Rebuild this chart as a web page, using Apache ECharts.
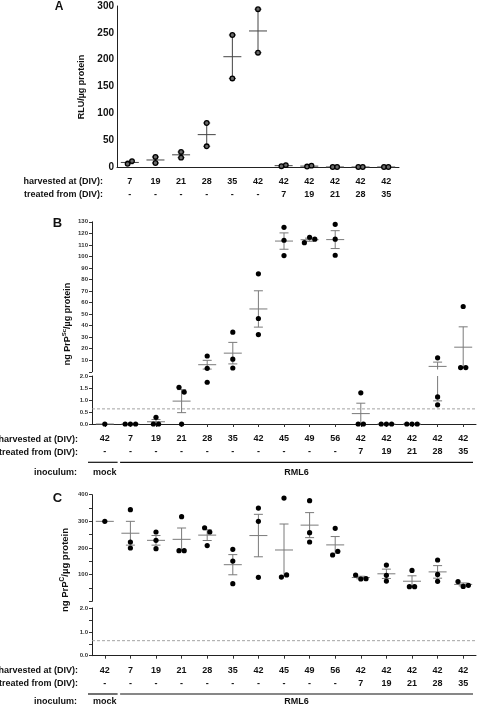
<!DOCTYPE html>
<html><head><meta charset="utf-8">
<script src="https://cdn.jsdelivr.net/npm/echarts@6/dist/echarts.min.js"></script>
<style>html,body{margin:0;padding:0;background:#fff}#c{width:477px;height:706px}</style>
</head><body><div id="c"></div>
<script>
// ---------------- data ----------------
const harvestA = ['7','19','21','28','35','42','42','42','42','42','42'];
const treatedA = ['-','-','-','-','-','-','7','19','21','28','35'];
const rluA = [[6,11],[18.7,7.5],[28,17.4],[82,38.6],[246,165],[294,213],[1.5,3.5],[0.8,2.5],[0,0],[0,0],[0,0]];

const harvestBC = ['42','7','19','21','28','35','42','45','49','56','42','42','42','42','42'];
const treatedBC = ['-','-','-','-','-','-','-','-','-','-','7','19','21','28','35'];
const inoculumLabels = ['mock','RML6'];
const inoculumFirstIndex = [0, 1];
const inoculumLastIndex = [0, 14];

const prpScB = [[0],[0,0,0],[0.28,0,0],[1.53,1.33,0],[13.7,3.0,1.74],[34.3,10.9,3.3],[84.9,46.2,32.3],
  [125.2,114,100.7],[111.9,116.6,114.9],[127.8,114.9,101],[1.3,0,0],[0,0,0],[0,0,0],[12.1,1.13,0.8],[56.6,3.7,3.7]];
const prpCC = [[300],[343.75,222.5,200],[260,228.75,197.5],[317.5,190,190],[276,260,209],[195,151,66],[350,300,90],
  [387.5,91,99],[377.5,257.5,222.5],[273.75,173.75,187.5],[98.75,83.75,85],[136,97.5,76],[116,55,55],[155,101,75],[74,56,60]];

const detectionLimit = 0.63;
const breakAt = 2;
const yMaxA = 300, yStepA = 50;
const yMaxBU = 130, yStepBU = 10;
const yMaxLow = 2, yStepBL = 0.5, yStepCL = 1;
const yMaxCU = 400, yStepCU = 100;

// ---------------- layout / style ----------------
const FONT = '"Liberation Sans", Arial, Helvetica, sans-serif';
const G = {
  A:  {left:117, top:6,     width:282, height:161},
  BU: {left:92,  top:221.8, width:384, height:150},
  BL: {left:92,  top:376,   width:384, height:48},
  CU: {left:92,  top:494.7, width:384, height:106.6},
  CL: {left:92,  top:608,   width:384, height:47.7}
};

function stats(arr){
  const n = arr.length;
  const m = arr.reduce((a,b)=>a+b,0)/n;
  if (n < 2) return {mean:m, sem:0, n};
  const v = arr.reduce((a,b)=>a+(b-m)*(b-m),0)/(n-1);
  return {mean:m, sem:Math.sqrt(v/n), n};
}
const statA = rluA.map(stats), statB = prpScB.map(stats), statC = prpCC.map(stats);

const styA = {r:2.3, fill:'#6a6a6a', stroke:'#000', sw:1.3, gap:4.4, bar:'#444', bw:1, meanHalf:9, cap:3.5};
const styBC = {r:2.6, fill:'#000', stroke:null, sw:0, gap:5.2, bar:'#7a7a7a', bw:1, meanHalf:9, cap:4.5};

function makeRenderer(points, statList, seg, sty){
  return function(params, api){
    const i = api.value(0);
    const cx = api.coord([i, seg.lo])[0];
    const py = v => api.coord([i, v])[1];
    const children = [];
    const ln = (x1,y1,x2,y2) => ({type:'line', shape:{x1,y1,x2,y2}, style:{stroke:sty.bar, lineWidth:sty.bw}});
    const s = statList[i];
    if (s.n > 1 && s.sem > 0){
      const lo = s.mean - s.sem, hi = s.mean + s.sem;
      const a = Math.max(lo, seg.lo), b = Math.min(hi, seg.hi);
      if (b > a) children.push(ln(cx, py(a), cx, py(b)));
      [lo, hi].forEach(e => { if (seg.has(e)) { const y = py(e); children.push(ln(cx-sty.cap, y, cx+sty.cap, y)); } });
    }
    if (seg.has(s.mean)) { const y = py(s.mean); children.push(ln(cx-sty.meanHalf, y, cx+sty.meanHalf, y)); }
    const pts = [];
    points[i].forEach(v => { if (seg.has(v)) pts.push({v, y:py(v), dx:0}); });
    const parent = pts.map((_,k)=>k);
    const find = k => parent[k] === k ? k : (parent[k] = find(parent[k]));
    for (let a=0;a<pts.length;a++) for (let b=a+1;b<pts.length;b++)
      if (Math.abs(pts[a].y-pts[b].y) < sty.r*2) parent[find(b)] = find(a);
    const groups = {};
    pts.forEach((p,k)=>{ const g = find(k); (groups[g] = groups[g] || []).push(p); });
    Object.values(groups).forEach(g => g.forEach((p,k)=>{ p.dx = (k-(g.length-1)/2)*sty.gap; }));
    pts.forEach(p => children.push({type:'circle', shape:{cx:cx+p.dx, cy:p.y, r:sty.r},
      style:{fill:sty.fill, stroke:sty.stroke, lineWidth:sty.sw}}));
    return {type:'group', children};
  };
}

const segA  = {lo:0, hi:yMaxA, has:v => v>=0 && v<=yMaxA};
const segBU = {lo:breakAt, hi:yMaxBU, has:v => v>=breakAt && v<=yMaxBU};
const segCU = {lo:breakAt, hi:yMaxCU, has:v => v>=breakAt && v<=yMaxCU};
const segL  = {lo:0, hi:breakAt, has:v => v>=0 && v<breakAt};

const catLabel = (h,t) => ({
  interval:0, fontSize:9, fontWeight:'bold', color:'#111', fontFamily:FONT, lineHeight:13, margin:8.5,
  formatter:(v, idx) => h[idx] + '\n' + t[idx]
});
const idx = arr => arr.map((_,i)=>String(i));
const axisLineStyle = {show:true, lineStyle:{color:'#222', width:1}};

function smallY(max, step, fmt, minor){
  return {type:'value', min:0, max, interval:step, axisLine:axisLineStyle,
    axisTick:{show:true, length:3, lineStyle:{color:'#333'}},
    minorTick:{show:!!minor, splitNumber:2, length:3, lineStyle:{color:'#333'}},
    splitLine:{show:false},
    axisLabel:{fontSize:6, fontWeight:'bold', color:'#333', margin:4, fontFamily:FONT, formatter:fmt}};
}
const hideZero = v => v === 0 ? '' : String(v);
const oneDec = v => v.toFixed(1);

function dashRenderer(params, api){
  const y = api.coord([0, api.value(1)])[1];
  const cs = params.coordSys;
  return {type:'line', shape:{x1:cs.x, y1:y, x2:cs.x+cs.width, y2:y},
    style:{stroke:'#999', lineWidth:0.9, lineDash:[3,2]}};
}

// ---------------- graphic (labels) ----------------
const bandW = G.BL.width / harvestBC.length;
const bandStart = i => G.BL.left + bandW*i;
const txt = (text, x, y, opt) => Object.assign({type:'text', x, y, silent:true,
  style:Object.assign({text, fill:'#111', fontSize:9, fontWeight:'bold', fontFamily:FONT,
    align:'right', verticalAlign:'middle', textAlign:'right', textVerticalAlign:'middle'}, opt && opt.style || {})},
  opt && opt.el || {});
const hline = (x1,x2,y) => ({type:'line', silent:true, shape:{x1,y1:y,x2,y2:y}, style:{stroke:'#111', lineWidth:1.2}});

const graphics = [
  txt('A', 59, 7, {style:{fontSize:12, align:'center', textAlign:'center'}}),
  txt('B', 57.5, 223, {style:{fontSize:13, align:'center', textAlign:'center'}}),
  txt('C', 57.5, 498, {style:{fontSize:13, align:'center', textAlign:'center'}}),
  txt('harvested at (DIV):', 103, 182),
  txt('treated from (DIV):', 103, 195),
  txt('harvested at (DIV):', 78, 439.3),
  txt('treated from (DIV):', 78, 452.3),
  txt('inoculum:', 77, 472.3),
  txt('harvested at (DIV):', 78, 670.7),
  txt('treated from (DIV):', 78, 684),
  txt('inoculum:', 77, 702),
  {type:'text', x:82, y:87, rotation:Math.PI/2, silent:true,
    style:{text:'RLU/µg protein', fill:'#111', fontSize:9, fontWeight:'bold', fontFamily:FONT,
      align:'center', verticalAlign:'middle', textAlign:'center', textVerticalAlign:'middle'}},
  {type:'text', x:68, y:324, rotation:Math.PI/2, silent:true,
    style:{text:'{n|ng PrP}{s|Sc}{n|/µg protein}', fill:'#111', fontFamily:FONT,
      align:'center', verticalAlign:'middle', textAlign:'center', textVerticalAlign:'middle',
      rich:{n:{fontSize:9, fontWeight:'bold', fontFamily:FONT, fill:'#111', color:'#111'},
            s:{fontSize:6, fontWeight:'bold', fontFamily:FONT, fill:'#111', color:'#111', padding:[0,0,7,0]}}}},
  {type:'text', x:65.5, y:570, rotation:Math.PI/2, silent:true,
    style:{text:'{n|ng PrP}{s|C}{n|/µg protein}', fill:'#111', fontFamily:FONT,
      align:'center', verticalAlign:'middle', textAlign:'center', textVerticalAlign:'middle',
      rich:{n:{fontSize:9.5, fontWeight:'bold', fontFamily:FONT, fill:'#111', color:'#111'},
            s:{fontSize:6.5, fontWeight:'bold', fontFamily:FONT, fill:'#111', color:'#111', padding:[0,0,7,0]}}}}
];
[[462.3, 472.3],[694, 702]].forEach(([ly, ty]) => {
  inoculumLabels.forEach((lab, g) => {
    const x1 = bandStart(inoculumFirstIndex[g]) + (g === 0 ? -4 : 2.5);
    const x2 = bandStart(inoculumLastIndex[g] + 1) - (g === 0 ? 0 : 3);
    graphics.push(hline(x1, x2, ly));
    const cx = g === 0 ? bandStart(inoculumFirstIndex[g]) + bandW/2 : (x1 + x2)/2;
    graphics.push(txt(lab, cx, ty, {style:{align:'center', textAlign:'center'}}));
  });
});

// ---------------- option ----------------
const catData = harvestBC.map((_,i)=>[i,0]);
const catDataA = harvestA.map((_,i)=>[i,0]);

const option = {
  animation:false,
  backgroundColor:'#fff',
  textStyle:{fontFamily:FONT},
  grid:[G.A, G.BU, G.BL, G.CU, G.CL].map(g => Object.assign({containLabel:false}, g)),
  xAxis:[
    {gridIndex:0, type:'category', data:idx(harvestA), boundaryGap:true, axisLine:axisLineStyle,
      axisTick:{show:false}, axisLabel:catLabel(harvestA, treatedA)},
    {gridIndex:1, type:'category', data:idx(harvestBC), show:false},
    {gridIndex:2, type:'category', data:idx(harvestBC), boundaryGap:true, axisLine:axisLineStyle,
      axisTick:{show:true, alignWithLabel:true, length:3, lineStyle:{color:'#333'}}, axisLabel:catLabel(harvestBC, treatedBC)},
    {gridIndex:3, type:'category', data:idx(harvestBC), show:false},
    {gridIndex:4, type:'category', data:idx(harvestBC), boundaryGap:true, axisLine:axisLineStyle,
      axisTick:{show:true, alignWithLabel:true, length:3, lineStyle:{color:'#333'}}, axisLabel:catLabel(harvestBC, treatedBC)}
  ],
  yAxis:[
    {gridIndex:0, type:'value', min:0, max:yMaxA, interval:yStepA, axisLine:axisLineStyle,
      axisTick:{show:false}, splitLine:{show:false},
      axisLabel:{fontSize:10, fontWeight:'bold', color:'#111', margin:3, fontFamily:FONT}},
    Object.assign({gridIndex:1}, smallY(yMaxBU, yStepBU, hideZero, false)),
    Object.assign({gridIndex:2}, smallY(yMaxLow, yStepBL, oneDec, false)),
    Object.assign({gridIndex:3}, smallY(yMaxCU, yStepCU, hideZero, true)),
    Object.assign({gridIndex:4}, smallY(yMaxLow, yStepCL, oneDec, true))
  ],
  series:[
    {type:'custom', xAxisIndex:0, yAxisIndex:0, data:catDataA, renderItem:makeRenderer(rluA, statA, segA, styA), z:5},
    {type:'custom', xAxisIndex:1, yAxisIndex:1, data:catData, renderItem:makeRenderer(prpScB, statB, segBU, styBC), z:5},
    {type:'custom', xAxisIndex:2, yAxisIndex:2, data:catData, renderItem:makeRenderer(prpScB, statB, segL, styBC), z:5},
    {type:'custom', xAxisIndex:3, yAxisIndex:3, data:catData, renderItem:makeRenderer(prpCC, statC, segCU, styBC), z:5},
    {type:'custom', xAxisIndex:4, yAxisIndex:4, data:catData, renderItem:makeRenderer(prpCC, statC, segL, styBC), z:5},
    {type:'custom', xAxisIndex:2, yAxisIndex:2, data:[[0, detectionLimit]], renderItem:dashRenderer, z:3},
    {type:'custom', xAxisIndex:4, yAxisIndex:4, data:[[0, detectionLimit]], renderItem:dashRenderer, z:3}
  ],
  graphic:{elements:graphics}
};

const chart = echarts.init(document.getElementById('c'), null, {renderer:'canvas'});
chart.setOption(option);
</script>
</body></html>
